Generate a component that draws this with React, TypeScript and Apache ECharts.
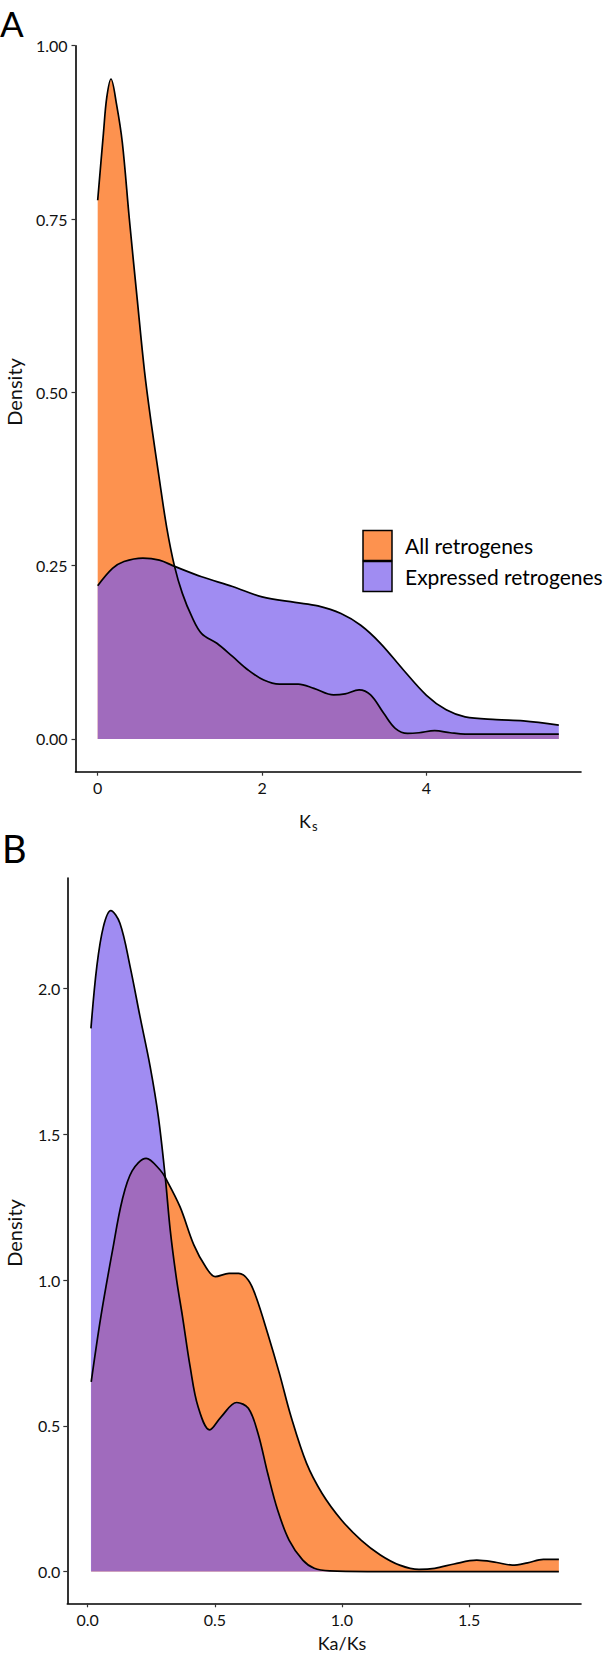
import React, { useEffect, useRef } from "react";
import * as echarts from "echarts";

// Panel A: Ks density
const ksAllX = [0, 0.07, 0.11, 0.162, 0.23, 0.3, 0.385, 0.482, 0.57, 0.652, 0.746, 0.84, 0.935, 1.03, 1.147, 1.265, 1.45, 1.64, 1.83, 2.02, 2.21, 2.44, 2.63, 2.87, 3.01, 3.18, 3.32, 3.48, 3.62, 3.77, 3.91, 4.1, 4.29, 4.47, 4.95, 5.61];
const ksAllY = [0.777, 0.874, 0.925, 0.952, 0.915, 0.86, 0.75, 0.633, 0.53, 0.455, 0.378, 0.305, 0.249, 0.21, 0.176, 0.152, 0.138, 0.119, 0.0995, 0.085, 0.079, 0.079, 0.073, 0.0635, 0.065, 0.0707, 0.0635, 0.037, 0.0154, 0.008, 0.009, 0.012, 0.009, 0.007, 0.007, 0.007];
const ksExpX = [0, 0.18, 0.32, 0.55, 0.75, 0.935, 1.265, 1.64, 2.0, 2.4, 2.68, 2.96, 3.2, 3.44, 3.72, 4.0, 4.24, 4.47, 4.85, 5.18, 5.61];
const ksExpY = [0.221, 0.246, 0.256, 0.261, 0.258, 0.249, 0.234, 0.22, 0.205, 0.197, 0.192, 0.181, 0.164, 0.138, 0.0995, 0.063, 0.042, 0.032, 0.028, 0.026, 0.02];

// Panel B: Ka/Ks density
const kaAllX = [0.014, 0.052, 0.098, 0.136, 0.175, 0.23, 0.285, 0.307, 0.363, 0.418, 0.464, 0.502, 0.556, 0.594, 0.632, 0.662, 0.708, 0.754, 0.8, 0.861, 0.922, 0.998, 1.075, 1.151, 1.227, 1.303, 1.365, 1.441, 1.53, 1.609, 1.67, 1.73, 1.792, 1.853];
const kaAllY = [0.651, 0.875, 1.103, 1.275, 1.375, 1.418, 1.378, 1.349, 1.252, 1.12, 1.046, 1.012, 1.023, 1.023, 1.0, 0.943, 0.817, 0.68, 0.531, 0.371, 0.268, 0.177, 0.108, 0.057, 0.022, 0.0074, 0.011, 0.026, 0.039, 0.031, 0.022, 0.03, 0.042, 0.042];
const kaExpX = [0.013, 0.036, 0.062, 0.091, 0.127, 0.167, 0.206, 0.246, 0.278, 0.305, 0.325, 0.35, 0.373, 0.403, 0.434, 0.48, 0.525, 0.586, 0.632, 0.67, 0.708, 0.747, 0.792, 0.846, 0.891, 0.952, 1.1, 1.4, 1.853];
const kaExpY = [1.864, 2.076, 2.213, 2.268, 2.225, 2.076, 1.904, 1.732, 1.561, 1.355, 1.17, 1.0, 0.875, 0.703, 0.566, 0.486, 0.531, 0.58, 0.56, 0.474, 0.337, 0.211, 0.108, 0.039, 0.011, 0.002, 0, 0, 0];

const ksTicks = [0, 2, 4];
const densATicks = [0, 0.25, 0.5, 0.75, 1.0];
const kaTicks = [0, 0.5, 1.0, 1.5];
const densBTicks = [0, 0.5, 1.0, 1.5, 2.0];

const seriesNames = ["All retrogenes", "Expressed retrogenes"];
const ORANGE = "#FC6404";
const PURPLE = "#775BEC";
const ALPHA = 0.7;
const FONT = "Lato";

const pairs = (xs: number[], ys: number[]) => xs.map((x, i) => [x, ys[i]]);

function xAxisCfg(grid: number, min: number, max: number, ticks: number[], fmt: (v: number) => string) {
  return {
    gridIndex: grid,
    type: "value",
    min,
    max,
    axisLine: { show: true, onZero: false, lineStyle: { color: "#000", width: 1.6 } },
    axisTick: { show: true, customValues: ticks, length: 4, lineStyle: { color: "#333", width: 1.2 } },
    axisLabel: { customValues: ticks, formatter: fmt, margin: 8, fontSize: 16, color: "#111", fontFamily: FONT },
    splitLine: { show: false },
  };
}
function yAxisCfg(grid: number, min: number, max: number, ticks: number[], fmt: (v: number) => string, margin: number) {
  return {
    gridIndex: grid,
    type: "value",
    min,
    max,
    axisLine: { show: true, onZero: false, lineStyle: { color: "#000", width: 1.6 } },
    axisTick: { show: true, customValues: ticks, length: 4, lineStyle: { color: "#333", width: 1.2 } },
    axisLabel: { customValues: ticks, formatter: fmt, margin, fontSize: 16, color: "#111", fontFamily: FONT },
    splitLine: { show: false },
  };
}
function densSeries(name: string, xi: number, data: number[][], color: string) {
  return {
    type: "line",
    name,
    xAxisIndex: xi,
    yAxisIndex: xi,
    data,
    smooth: 0.35,
    symbol: "none",
    lineStyle: { color: "#000", width: 1.7 },
    areaStyle: { color, opacity: ALPHA, origin: 0 },
    silent: true,
  };
}

export default function App() {
  const ref = useRef<HTMLDivElement>(null);
  useEffect(() => {
    if (!ref.current) return;
    const chart = echarts.init(ref.current, undefined, { renderer: "svg" });
    const option = {
      animation: false,
      grid: [
        { left: 75.5, top: 45.7, width: 505.5, height: 726 },
        { left: 67.3, top: 878, width: 513.7, height: 725.3 },
      ],
      xAxis: [
        xAxisCfg(0, -0.27, 5.88, ksTicks, (v: number) => String(Math.round(v))),
        xAxisCfg(1, -0.08, 1.94, kaTicks, (v: number) => v.toFixed(1)),
      ],
      yAxis: [
        yAxisCfg(0, -0.0472, 1.0, densATicks, (v: number) => v.toFixed(2), 8),
        yAxisCfg(1, -0.109, 2.38, densBTicks, (v: number) => v.toFixed(1), 7),
      ],
      series: [
        densSeries(seriesNames[0], 0, pairs(ksAllX, ksAllY), ORANGE),
        densSeries(seriesNames[1], 0, pairs(ksExpX, ksExpY), PURPLE),
        densSeries(seriesNames[0], 1, pairs(kaAllX, kaAllY), ORANGE),
        densSeries(seriesNames[1], 1, pairs(kaExpX, kaExpY), PURPLE),
      ],
      graphic: [
        { type: "text", x: 0, y: 23, style: { text: "A", fontSize: 35, fontFamily: FONT, fill: "#000", verticalAlign: "middle" } },
        { type: "text", left: 2, top: 829, style: { text: "B", fontSize: 38, fontFamily: FONT, fill: "#000" } },
        { type: "text", x: 14, y: 392, rotation: Math.PI / 2, style: { text: "Density", fontSize: 20, fontFamily: FONT, fill: "#111", align: "center", verticalAlign: "middle" } },
        { type: "text", x: 14, y: 1233, rotation: Math.PI / 2, style: { text: "Density", fontSize: 20, fontFamily: FONT, fill: "#111", align: "center", verticalAlign: "middle" } },
        { type: "text", x: 311, y: 821, style: { text: "K", fontSize: 18, fontFamily: FONT, fill: "#111", align: "right", verticalAlign: "middle" } },
        { type: "text", x: 312, y: 826, style: { text: "s", fontSize: 13, fontFamily: FONT, fill: "#111", align: "left", verticalAlign: "middle" } },
        { type: "text", x: 342, y: 1643, style: { text: "Ka/Ks", fontSize: 18, fontFamily: FONT, fill: "#111", align: "center", verticalAlign: "middle" } },
        // legend
        { type: "rect", shape: { x: 363, y: 530.5, width: 29, height: 30 }, style: { fill: ORANGE, fillOpacity: ALPHA, stroke: "#000", lineWidth: 1.5 } },
        { type: "rect", shape: { x: 363, y: 561.5, width: 29, height: 30 }, style: { fill: PURPLE, fillOpacity: ALPHA, stroke: "#000", lineWidth: 1.5 } },
        { type: "text", x: 405, y: 545.5, style: { text: seriesNames[0], fontSize: 21, fontFamily: FONT, fill: "#000", verticalAlign: "middle" } },
        { type: "text", x: 405, y: 576.5, style: { text: seriesNames[1], fontSize: 21, fontFamily: FONT, fill: "#000", verticalAlign: "middle" } },
      ],
    };
    chart.setOption(option as any);
    return () => chart.dispose();
  }, []);
  return <div ref={ref} style={{ position: "absolute", left: 0, top: 0, width: 608, height: 1653, background: "#fff" }} />;
}
